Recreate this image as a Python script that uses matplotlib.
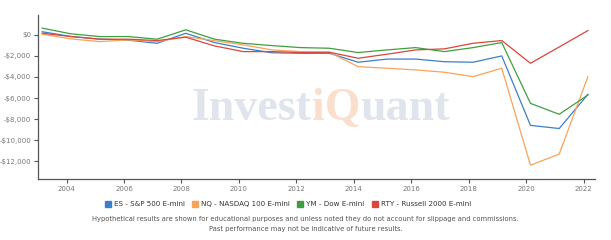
import matplotlib
matplotlib.use("Agg")
import matplotlib.pyplot as plt
from matplotlib.ticker import FuncFormatter

years = [2003, 2004, 2005, 2006, 2007, 2008, 2009, 2010, 2011, 2012,
         2013, 2014, 2015, 2016, 2017, 2018, 2019, 2020, 2021, 2022]

es = [300, -150, -400, -500, -800, 150, -730, -1270, -1700, -1750,
      -1750, -2600, -2300, -2300, -2550, -2600, -2000, -8600, -8900, -5650]
nq = [60, -380, -640, -480, -640, -160, -550, -950, -1430, -1590,
      -1650, -3020, -3170, -3330, -3550, -3970, -3170, -12380, -11330, -3970]
ym = [640, 100, -160, -160, -410, 480, -410, -800, -1020, -1210,
      -1270, -1680, -1430, -1210, -1590, -1210, -730, -6510, -7550, -5710]
rty = [160, -160, -410, -410, -540, -220, -1050, -1590, -1590, -1680,
       -1650, -2220, -1840, -1430, -1330, -800, -540, -2700, -1150, 410]

series_labels = ["ES - S&P 500 E-mini", "NQ - NASDAQ 100 E-mini",
                 "YM - Dow E-mini", "RTY - Russell 2000 E-mini"]
colors = ["#3d7fc6", "#f8a35a", "#3f9f3f", "#d8463c"]

x_ticks = [2004, 2006, 2008, 2010, 2012, 2014, 2016, 2018, 2020, 2022]
y_ticks = [0, -2000, -4000, -6000, -8000, -10000, -12000]

footnote = ("Hypothetical results are shown for educational purposes and unless noted "
            "they do not account for slippage and commissions.\n"
            "Past performance may not be indicative of future results.")


def money(v, _pos=None):
    if v < 0:
        return f"-${abs(v):,.0f}"
    return f"${v:,.0f}"


fig = plt.figure(figsize=(6.11, 2.4), dpi=100)
ax = fig.add_axes([0.062, 0.254, 0.912, 0.684])

# watermark, pieces chained so they sit flush against each other
wm_style = dict(fontsize=33, fontweight="bold", family="Liberation Serif", zorder=0)
t = ax.text(0.276, 0.36, "Invest", transform=ax.transAxes, ha="left", va="baseline",
            color="#dfe4ed", **wm_style)
t = ax.annotate("iQ", xycoords=t, xy=(1, 0), va="bottom", color="#fbdfcc", **wm_style)
ax.annotate("uant", xycoords=t, xy=(1, 0), va="bottom", color="#dfe4ed", **wm_style)

x = [y + 0.15 for y in years]
for vals, lab, c in zip([es, nq, ym, rty], series_labels, colors):
    ax.plot(x, vals, color=c, lw=0.9, label=lab, zorder=2)

ax.set_xlim(2003.0, 2022.4)
ax.set_ylim(-13700, 1900)
ax.set_xticks(x_ticks)
ax.set_yticks(y_ticks)
ax.yaxis.set_major_formatter(FuncFormatter(money))
ax.tick_params(labelsize=5, colors="#555555", length=3, width=0.8, pad=2)
ax.tick_params(axis="both", labelcolor="#777777")
for side in ["top", "right"]:
    ax.spines[side].set_visible(False)
for side in ["left", "bottom"]:
    ax.spines[side].set_color("#555555")
    ax.spines[side].set_linewidth(0.9)

handles = [plt.Line2D([], [], marker="s", ls="none", color=c, markersize=4) for c in colors]
fig.legend(handles, series_labels, loc="center", bbox_to_anchor=(0.47, 0.15), ncol=4,
           frameon=False, fontsize=5.1, handletextpad=0.2, columnspacing=0.9,
           handlelength=1.2, labelcolor="#333333")

fig.text(0.5, 0.035, footnote, ha="center", va="bottom", fontsize=4.9,
         color="#555555", linespacing=1.7)

fig.savefig("out.png", dpi=100)
